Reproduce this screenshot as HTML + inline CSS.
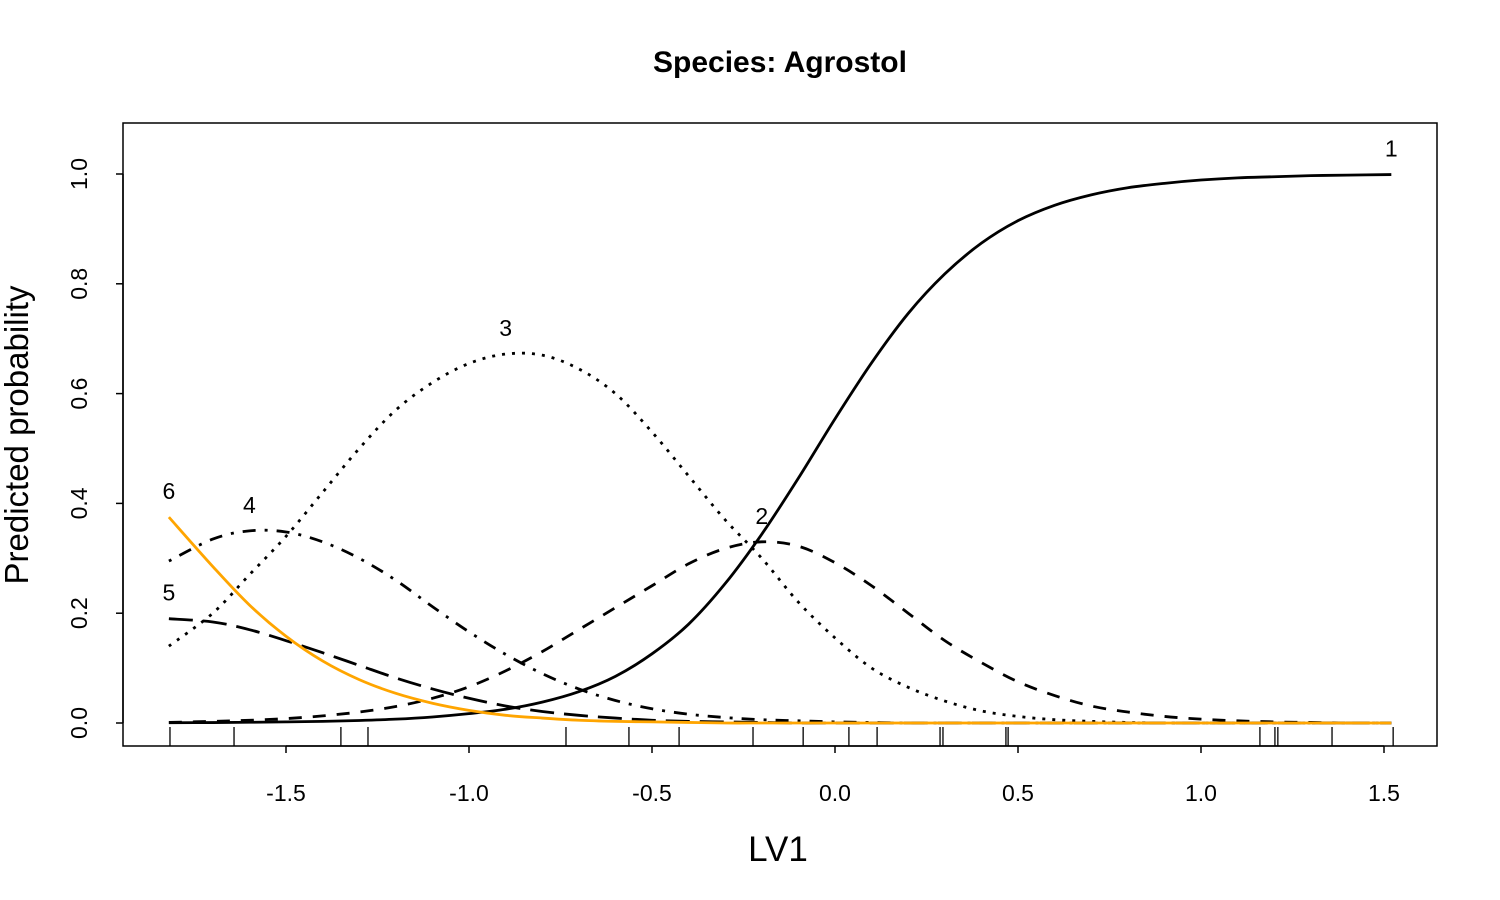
<!DOCTYPE html>
<html><head><meta charset="utf-8">
<style>
html,body{margin:0;padding:0;background:#fff;}
svg{display:block;font-family:"Liberation Sans",Arial,sans-serif;}
</style></head>
<body>
<svg id="chart" width="1500" height="900" viewBox="0 0 1500 900">
<text x="780" y="72" text-anchor="middle" font-size="30" font-weight="bold">Species: Agrostol</text>
<rect x="123" y="123" width="1314" height="623" fill="none" stroke="#000" stroke-width="1.5"/>
<text x="778" y="861" text-anchor="middle" font-size="35">LV1</text>
<text transform="translate(28,435) rotate(-90)" text-anchor="middle" font-size="33">Predicted probability</text>
<g id="axes"></g>
<g id="rug"></g>
<g id="series"></g>
<g id="labels"></g>
</svg>
<script>
const xs = [-1.82,-1.7,-1.6,-1.5,-1.4,-1.3,-1.2,-1.1,-1.0,-0.9,-0.8,-0.7,-0.6,-0.5,-0.4,-0.3,-0.2,-0.1,0.0,0.1,0.2,0.3,0.4,0.5,0.6,0.7,0.8,0.9,1.0,1.1,1.2,1.3,1.4,1.52];
const cat1 = [0.0004,0.0008,0.0013,0.002,0.003,0.0046,0.007,0.011,0.017,0.025,0.038,0.057,0.085,0.126,0.18,0.254,0.344,0.446,0.554,0.656,0.746,0.818,0.874,0.915,0.943,0.962,0.975,0.983,0.989,0.993,0.995,0.997,0.998,0.999];
const cat2 = [0.001,0.003,0.005,0.008,0.013,0.02,0.03,0.045,0.066,0.095,0.13,0.17,0.21,0.25,0.29,0.318,0.33,0.322,0.292,0.25,0.2,0.15,0.11,0.075,0.05,0.031,0.02,0.012,0.007,0.004,0.002,0.001,0.0,0.0];
const cat3 = [0.14,0.2,0.27,0.34,0.42,0.5,0.57,0.62,0.655,0.672,0.67,0.645,0.6,0.53,0.45,0.37,0.3,0.22,0.155,0.1,0.065,0.04,0.022,0.012,0.006,0.003,0.001,0.0,0.0,0.0,0.0,0.0,0.0,0.0];
const cat4 = [0.295,0.335,0.35,0.348,0.33,0.3,0.26,0.212,0.166,0.125,0.09,0.062,0.041,0.026,0.016,0.01,0.006,0.004,0.002,0.001,0.0,0.0,0.0,0.0,0.0,0.0,0.0,0.0,0.0,0.0,0.0,0.0,0.0,0.0];
const cat5 = [0.19,0.184,0.17,0.15,0.128,0.105,0.082,0.062,0.045,0.031,0.021,0.014,0.009,0.005,0.003,0.002,0.001,0.0,0.0,0.0,0.0,0.0,0.0,0.0,0.0,0.0,0.0,0.0,0.0,0.0,0.0,0.0,0.0,0.0];
const cat6 = [0.375,0.285,0.215,0.158,0.113,0.079,0.054,0.036,0.023,0.014,0.009,0.005,0.003,0.002,0.001,0.0,0.0,0.0,0.0,0.0,0.0,0.0,0.0,0.0,0.0,0.0,0.0,0.0,0.0,0.0,0.0,0.0,0.0,0.0];
const seriesNames = ["1","2","3","4","5","6"];
const xTicks = [-1.5,-1.0,-0.5,0.0,0.5,1.0,1.5];
const xTickLabels = ["-1.5","-1.0","-0.5","0.0","0.5","1.0","1.5"];
const yTicks = [0,0.2,0.4,0.6,0.8,1.0];
const yTickLabels = ["0.0","0.2","0.4","0.6","0.8","1.0"];
const rugValues = [-1.817,-1.642,-1.35,-1.276,-0.735,-0.563,-0.426,-0.224,-0.087,0.038,0.115,0.287,0.295,0.467,0.473,1.161,1.202,1.21,1.358,1.525];

const NS = "http://www.w3.org/2000/svg";
function X(v){ return 835 + 366*v; }
function Y(v){ return 723 - 549*v; }
function mk(tag, attrs, parent){
  const e = document.createElementNS(NS, tag);
  for (const k in attrs) e.setAttribute(k, attrs[k]);
  parent.appendChild(e); return e;
}
const axes = document.getElementById('axes');
let xl = mk('line',{x1:X(xTicks[0]),x2:X(xTicks[xTicks.length-1]),y1:746,y2:746,stroke:'#000','stroke-width':1.5},axes);


xTicks.forEach((t,i)=>{
  const l = mk('line',{x1:X(t),x2:X(t),y1:746,y2:753,stroke:'#000','stroke-width':1.5},axes);
  
  
  const tx = mk('text',{x:X(t),y:801,'text-anchor':'middle','font-size':23},axes);
  tx.textContent = xTickLabels[i];
  
  
});
let yl = mk('line',{x1:123,x2:123,y1:Y(0),y2:Y(1),stroke:'#000','stroke-width':1.5},axes);


yTicks.forEach((t,i)=>{
  const l = mk('line',{x1:116,x2:123,y1:Y(t),y2:Y(t),stroke:'#000','stroke-width':1.5},axes);
  
  
  const tx = mk('text',{transform:`translate(87,${Y(t)}) rotate(-90)`,'text-anchor':'middle','font-size':23},axes);
  tx.textContent = yTickLabels[i];
  
  
});
const rug = document.getElementById('rug');
rugValues.forEach(v=>{
  const l = mk('line',{x1:X(v),x2:X(v),y1:727,y2:746,stroke:'#000','stroke-width':1.3},rug);
  
  
});
function pathFor(vals){
  const p = xs.map((x,i)=>[X(x),Y(vals[i])]);
  let d = `M${p[0][0]},${p[0][1]}`;
  for (let i=0;i<p.length-1;i++){
    const p0=p[Math.max(0,i-1)],p1=p[i],p2=p[i+1],p3=p[Math.min(p.length-1,i+2)];
    const c1=[p1[0]+(p2[0]-p0[0])/6,p1[1]+(p2[1]-p0[1])/6];
    const c2=[p2[0]-(p3[0]-p1[0])/6,p2[1]-(p3[1]-p1[1])/6];
    d+=` C${c1[0]},${c1[1]} ${c2[0]},${c2[1]} ${p2[0]},${p2[1]}`;
  }
  return d;
}
const allSeries = [cat1,cat2,cat3,cat4,cat5,cat6];
const dashes = ['none','13 11','3 7','3 9 13 9','24 10','none'];
const colors = ['#000','#000','#000','#000','#000','#FFA500'];
const sg = document.getElementById('series');
const lg = document.getElementById('labels');
allSeries.forEach((vals,s)=>{
  const p = mk('path',{d:pathFor(vals),fill:'none',stroke:colors[s],'stroke-width':2.8,'stroke-dasharray':dashes[s]},sg);
  
  
  let mi=0; vals.forEach((v,i)=>{ if(v>vals[mi]) mi=i; });
  const t = mk('text',{x:X(xs[mi]),y:Y(vals[mi])-18,'text-anchor':'middle','font-size':23},lg);
  t.textContent = seriesNames[s];
  
  
});
</script>
</body></html>
